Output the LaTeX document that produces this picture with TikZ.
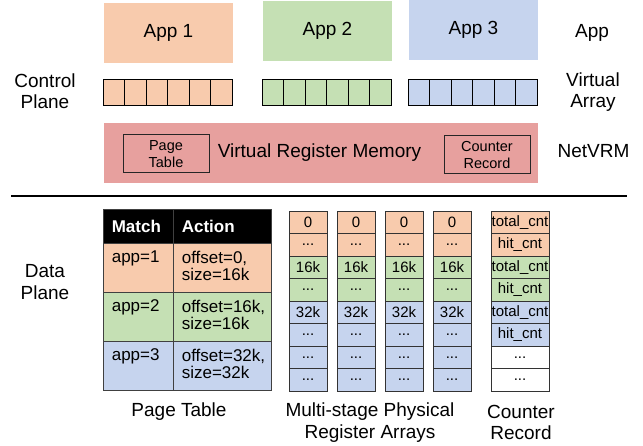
\documentclass[tikz,border=0pt]{standalone}
\usepackage{fontspec}
\setmainfont{Liberation Sans}
\usepackage{tikz}
\usetikzlibrary{positioning}
\definecolor{appA}{HTML}{F8CBAD}
\definecolor{appB}{HTML}{C5E0B4}
\definecolor{appC}{HTML}{C6D4EE}
\definecolor{vrmred}{HTML}{E7A09E}
\definecolor{ptline}{HTML}{404040}
\newcommand{\bigtxt}{\fontsize{19}{21.5}\selectfont}
\newcommand{\midtxt}{\fontsize{17}{17.5}\selectfont}
\newcommand{\dotcell}{...}
\tikzstyle{appbox} = [rectangle, minimum width=129pt, minimum height=60pt, inner sep=0pt, font=\bigtxt]
\tikzstyle{vcell} = [draw=black, line width=1pt, minimum width=21.5pt, minimum height=26pt, inner sep=0pt]
\tikzstyle{sidelabel} = [align=center, inner sep=0pt, font=\bigtxt]
\tikzstyle{innerbox} = [draw=black!85, line width=1pt, minimum width=86pt, minimum height=38pt, inner sep=0pt, align=center, font=\fontsize{14.5}{16.5}\selectfont]
\tikzstyle{ptcell} = [draw=ptline, line width=0.8pt, inner sep=0pt]
\tikzstyle{pttext} = [inner sep=0pt, align=left, font=\midtxt]
\tikzstyle{regcell} = [draw=black!80, line width=0.8pt, minimum width=38pt, minimum height=22.5pt, inner sep=0pt, font=\fontsize{15}{17}\selectfont]
\tikzstyle{cntcell} = [regcell, minimum width=58pt, font=\fontsize{15}{16}\selectfont]

\begin{document}
\begin{tikzpicture}[x=1pt, y=-1pt]
	\useasboundingbox (0,0) rectangle (643,446);
	% control plane
	\node[appbox, fill=appA] (app1) at (168.5,33) {App 1};
	\node[appbox, fill=appB] (app2) at (327.5,31) {App 2};
	\node[appbox, fill=appC] (app3) at (473.5,30) {App 3};
	\foreach \a/\x/\c in {1/103/appA, 2/262/appB, 3/408/appC}
		\foreach \i in {0,...,5}
			\node[vcell, fill=\c] (va\a-\i) at (\x+10.75+21.5*\i, 93) {};
	\node[fill=vrmred, minimum width=434pt, minimum height=60pt, inner sep=0pt] (vrm) at (321,153) {};
	\node[inner sep=0pt, font=\bigtxt] (vrmtxt) at (319.5,153) {Virtual Register Memory};
	\node[innerbox] (vrmpt) at (166,154) {Page\\Table};
	\node[innerbox] (vrmcr) at (487,155) {Counter\\Record};
	\node[sidelabel] (ctrl) at (45,91) {Control\\Plane};
	\node[sidelabel] (lapp) at (592,33) {App};
	\node[sidelabel] (lva) at (593,92) {Virtual\\Array};
	\node[sidelabel] (lvrm) at (593.5,151) {NetVRM};
	\coordinate (sepL) at (11,196);
	\coordinate (sepR) at (627,196);
	\draw[line width=2pt] (sepL) -- (sepR);
	% data plane
	\node[sidelabel] (data) at (45,282) {Data\\Plane};
	\node[ptcell, fill=black, minimum width=70pt, minimum height=34pt] (hmatch) at (138,226) {};
	\node[ptcell, fill=black, minimum width=98pt, minimum height=34pt] (haction) at (222,226) {};
	\node[pttext, text=white, anchor=west, font=\midtxt\bfseries] (tmatch) at ([xshift=9pt]hmatch.west) {Match};
	\node[pttext, text=white, anchor=west, font=\midtxt\bfseries] (taction) at ([xshift=9pt]haction.west) {Action};
	\foreach \r/\y/\c/\act in {1/267.5/appA/{offset=0,\\size=16k}, 2/316.5/appB/{offset=16k,\\size=16k}, 3/365.5/appC/{offset=32k,\\size=32k}} {
		\node[ptcell, fill=\c, minimum width=70pt, minimum height=49pt] (pm\r) at (138,\y) {};
		\node[ptcell, fill=\c, minimum width=98pt, minimum height=49pt] (pa\r) at (222,\y) {};
		\node[pttext, anchor=north west] (tm\r) at ([xshift=9pt, yshift=-8pt]pm\r.north west) {app=\r};
		\node[pttext, anchor=north west] (ta\r) at ([xshift=9pt, yshift=-8pt]pa\r.north west) {\act};
	}
	\node[sidelabel] (cappt) at (179,412) {Page Table};
	\foreach \s/\x in {1/308, 2/356, 3/404, 4/452}
		\foreach \i/\t/\c in {0/0/appA, 1/\dotcell/appA, 2/16k/appB, 3/\dotcell/appB, 4/32k/appC, 5/\dotcell/appC, 6/\dotcell/appC, 7/\dotcell/appC}
			\node[regcell, fill=\c] (r\s-\i) at (\x, 222.25+22.5*\i) {\t};
	\node[sidelabel] (capreg) at (370,422.5) {Multi-stage Physical\\Register Arrays};
	\foreach \i/\t/\c in {0/total\_cnt/appA, 1/hit\_cnt/appA, 2/total\_cnt/appB, 3/hit\_cnt/appB, 4/total\_cnt/appC, 5/hit\_cnt/appC, 6/\dotcell/white, 7/\dotcell/white}
		\node[cntcell, fill=\c] (cr\i) at (520, 222.25+22.5*\i) {\t};
	\node[sidelabel] (capcr) at (521,422.5) {Counter\\Record};
\end{tikzpicture}
\end{document}
